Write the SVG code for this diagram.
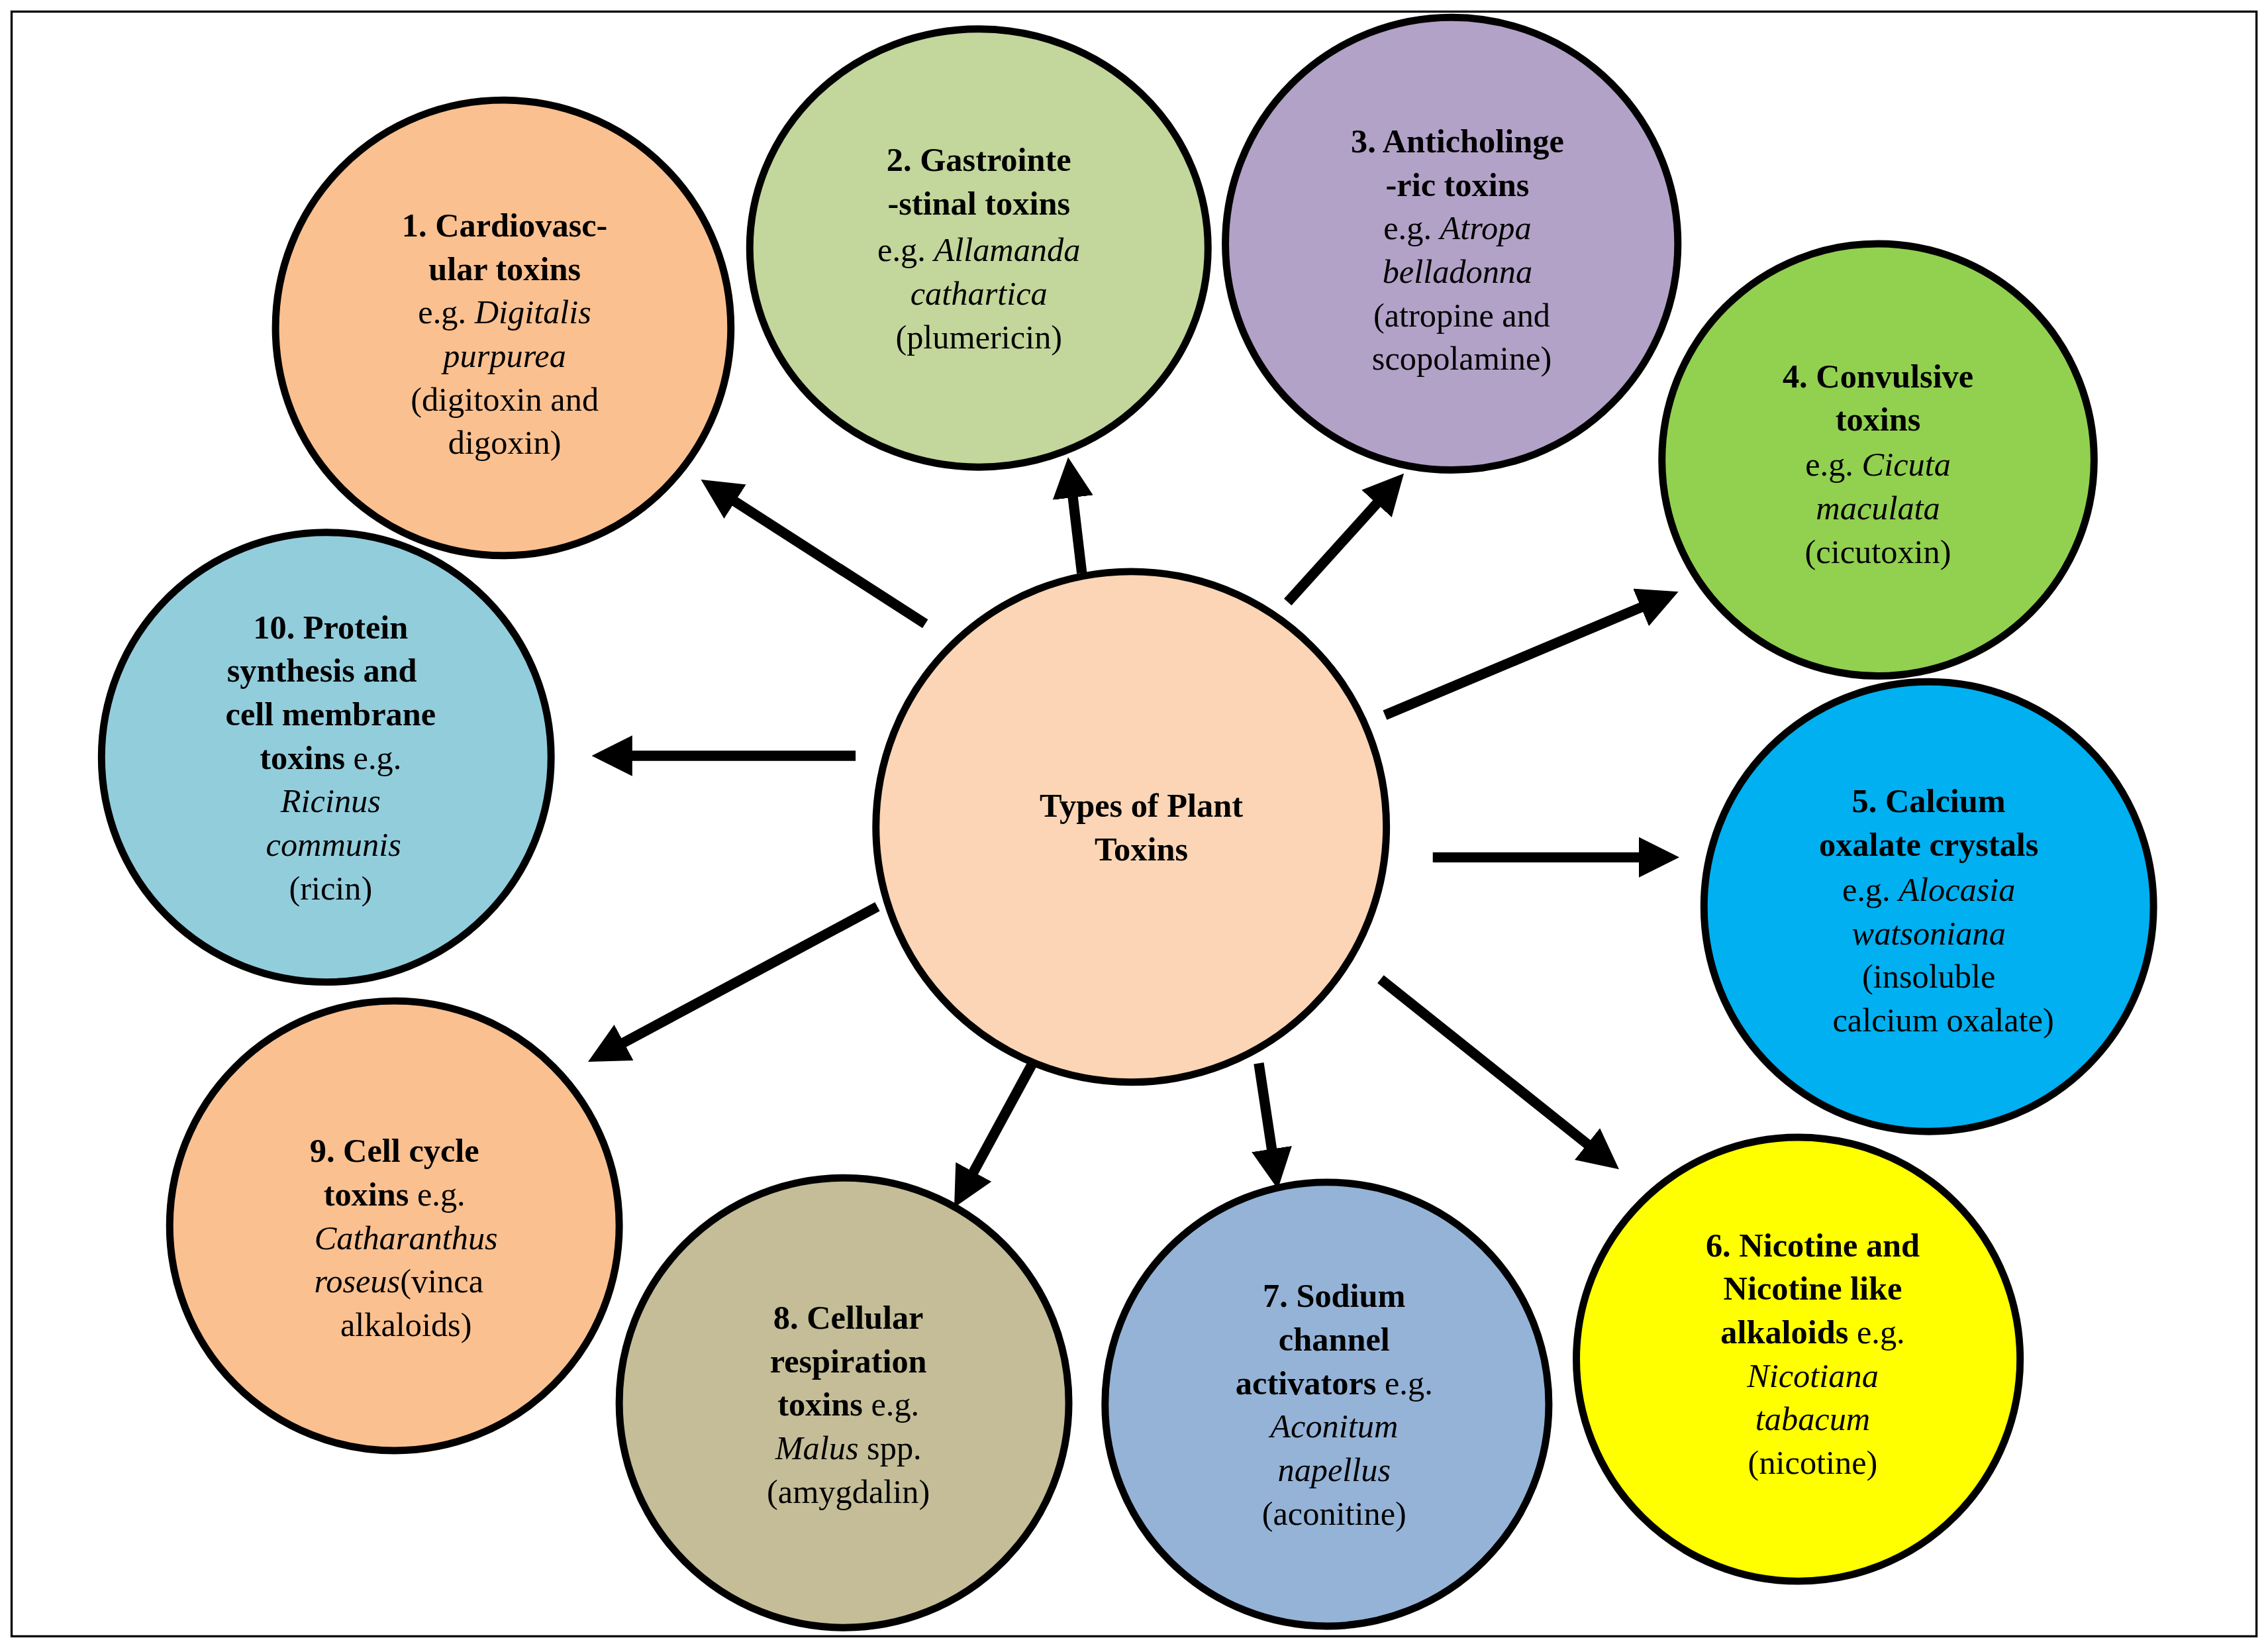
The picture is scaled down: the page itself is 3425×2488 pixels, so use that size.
<svg xmlns="http://www.w3.org/2000/svg" width="3425" height="2488" viewBox="0 0 3425 2488">
<style>
.n{stroke:#000;stroke-width:5}
text{font-family:"Liberation Serif","DejaVu Serif",serif;font-size:23px;text-anchor:middle;fill:#000}
.b{font-weight:bold}
.i{font-style:italic}
.c line{stroke:#000;stroke-width:7}
</style>
<defs><marker id="a" markerWidth="4" markerHeight="4" refX="1" refY="2" orient="auto" markerUnits="strokeWidth"><path d="M0,0L4,2L0,4z" fill="#000"/></marker></defs>
<rect width="3425" height="2488" fill="#fff"/>
<g transform="scale(2.19)">
<rect x="8" y="8" width="1548" height="1120" fill="none" stroke="#000" stroke-width="1.5"/>
<g class="c">
<line x1="638" y1="430" x2="501" y2="342" marker-end="url(#a)"/>
<line x1="746" y1="395" x2="739" y2="336" marker-end="url(#a)"/>
<line x1="888" y1="415" x2="954" y2="342" marker-end="url(#a)"/>
<line x1="955" y1="493" x2="1138" y2="416" marker-end="url(#a)"/>
<line x1="988" y1="591" x2="1137" y2="591" marker-end="url(#a)"/>
<line x1="952" y1="675" x2="1100" y2="793" marker-end="url(#a)"/>
<line x1="868" y1="733" x2="878" y2="799" marker-end="url(#a)"/>
<line x1="712" y1="733" x2="668" y2="814" marker-end="url(#a)"/>
<line x1="605" y1="625" x2="424" y2="722" marker-end="url(#a)"/>
<line x1="590" y1="521" x2="429" y2="521" marker-end="url(#a)"/>
</g>
<g id="center"><circle class="n" cx="780" cy="570" r="176" fill="#FBD5B5"/>
<text class="b" font-weight="normal"><tspan x="787" y="563" font-weight="bold">Types of Plant</tspan><tspan x="787" y="593" font-weight="bold">Toxins</tspan></text></g>
<g id="n1"><circle class="n" cx="347" cy="226" r="157" fill="#FAC090"/>
<text><tspan x="348" y="163" class="b">1. Cardiovasc-</tspan><tspan x="348" y="193" class="b">ular toxins</tspan><tspan x="348" y="223">e.g. <tspan class="i">Digitalis</tspan></tspan><tspan x="348" y="253" class="i">purpurea</tspan><tspan x="348" y="283">(digitoxin and</tspan><tspan x="348" y="313">digoxin)</tspan></text></g>
<g id="n2"><ellipse class="n" cx="675" cy="171" rx="158" ry="151" fill="#C3D69B"/>
<text><tspan x="675" y="118" class="b">2. Gastrointe</tspan><tspan x="675" y="148" class="b">-stinal toxins</tspan><tspan x="675" y="180">e.g. <tspan class="i">Allamanda</tspan></tspan><tspan x="675" y="210" class="i">cathartica</tspan><tspan x="675" y="240">(plumericin)</tspan></text></g>
<g id="n3"><circle class="n" cx="1001" cy="168" r="156" fill="#B2A2C7"/>
<text><tspan x="1005" y="105" class="b">3. Anticholinge</tspan><tspan x="1005" y="135" class="b">-ric toxins</tspan><tspan x="1005" y="165">e.g. <tspan class="i">Atropa</tspan></tspan><tspan x="1005" y="195" class="i">belladonna</tspan><tspan x="1008" y="225">(atropine and</tspan><tspan x="1008" y="255">scopolamine)</tspan></text></g>
<g id="n4"><circle class="n" cx="1295" cy="317" r="149" fill="#92D050"/>
<text><tspan x="1295" y="267" class="b">4. Convulsive</tspan><tspan x="1295" y="297" class="b">toxins</tspan><tspan x="1295" y="328">e.g. <tspan class="i">Cicuta</tspan></tspan><tspan x="1295" y="358" class="i">maculata</tspan><tspan x="1295" y="388">(cicutoxin)</tspan></text></g>
<g id="n5"><circle class="n" cx="1330" cy="625" r="155" fill="#00B0F0"/>
<text><tspan x="1330" y="560" class="b">5. Calcium</tspan><tspan x="1330" y="590" class="b">oxalate crystals</tspan><tspan x="1330" y="621">e.g. <tspan class="i">Alocasia</tspan></tspan><tspan x="1330" y="651" class="i">watsoniana</tspan><tspan x="1330" y="681">(insoluble</tspan><tspan x="1340" y="711">calcium oxalate)</tspan></text></g>
<g id="n6"><circle class="n" cx="1240" cy="937" r="153" fill="#FFFF00"/>
<text><tspan x="1250" y="866" class="b">6. Nicotine and</tspan><tspan x="1250" y="896" class="b">Nicotine like</tspan><tspan x="1250" y="926"><tspan class="b">alkaloids</tspan> e.g.</tspan><tspan x="1250" y="956" class="i">Nicotiana</tspan><tspan x="1250" y="986" class="i">tabacum</tspan><tspan x="1250" y="1016">(nicotine)</tspan></text></g>
<g id="n7"><circle class="n" cx="915" cy="968" r="153" fill="#95B3D7"/>
<text><tspan x="920" y="901" class="b">7. Sodium</tspan><tspan x="920" y="931" class="b">channel</tspan><tspan x="920" y="961"><tspan class="b">activators</tspan> e.g.</tspan><tspan x="920" y="991" class="i">Aconitum</tspan><tspan x="920" y="1021" class="i">napellus</tspan><tspan x="920" y="1051">(aconitine)</tspan></text></g>
<g id="n8"><circle class="n" cx="582" cy="967" r="155" fill="#C4BD97"/>
<text><tspan x="585" y="916" class="b">8. Cellular</tspan><tspan x="585" y="946" class="b">respiration</tspan><tspan x="585" y="976"><tspan class="b">toxins</tspan> e.g.</tspan><tspan x="585" y="1006"><tspan class="i">Malus</tspan> spp.</tspan><tspan x="585" y="1036">(amygdalin)</tspan></text></g>
<g id="n9"><circle class="n" cx="272" cy="845" r="155" fill="#FAC090"/>
<text><tspan x="272" y="801" class="b">9. Cell cycle</tspan><tspan x="272" y="831"><tspan class="b">toxins</tspan> e.g.</tspan><tspan x="280" y="861" class="i">Catharanthus</tspan><tspan x="275" y="891"><tspan class="i">roseus</tspan>(vinca</tspan><tspan x="280" y="921">alkaloids)</tspan></text></g>
<g id="n10"><circle class="n" cx="225" cy="522" r="155" fill="#92CDDC"/>
<text><tspan x="228" y="440" class="b">10. Protein</tspan><tspan x="222" y="470" class="b">synthesis and</tspan><tspan x="228" y="500" class="b">cell membrane</tspan><tspan x="228" y="530"><tspan class="b">toxins</tspan> e.g.</tspan><tspan x="228" y="560" class="i">Ricinus</tspan><tspan x="230" y="590" class="i">communis</tspan><tspan x="228" y="620">(ricin)</tspan></text></g>
</g>
</svg>
